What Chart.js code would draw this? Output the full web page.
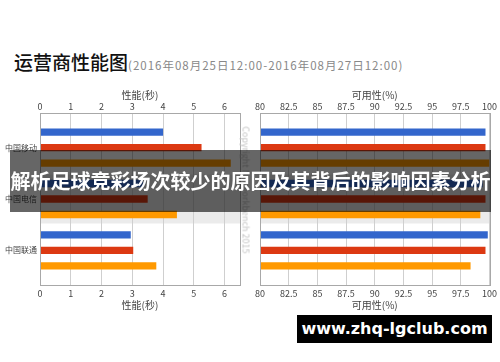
<!DOCTYPE html>
<html>
  <head>
    <meta charset="utf-8" />
    <title>运营商性能图</title>
    <style>
      body { margin: 0; width: 500px; height: 362px; background: #fff; position: relative; overflow: hidden; font-family: "Noto Sans CJK SC", sans-serif; }
      .title { position: absolute; left: 14px; top: 48px; white-space: nowrap; }
      .title .main { font-size: 19px; color: #111; font-weight: 500; }
      .title .sub { font-size: 11.5px; color: #888; letter-spacing: 1px; }
      .chartBox { position: absolute; top: 85px; width: 250px; height: 230px; }
      .copy { position: absolute; left: 246px; top: 190px; transform: translate(-50%, -50%) rotate(90deg); font-size: 9px; color: #c4c4c4; white-space: nowrap; }
      .banner { position: absolute; left: 10px; top: 150px; width: 481px; height: 62px; background: rgba(0, 0, 0, 0.6); color: #fff; font-size: 20px; font-weight: bold; line-height: 62px; text-align: center; white-space: nowrap; }
      .site { position: absolute; left: 297px; top: 315px; width: 195px; height: 28px; background: #000; color: #fff; font-family: "DejaVu Sans", sans-serif; font-weight: bold; font-size: 16px; line-height: 28px; text-align: center; }
    </style>
  </head>
  <body>
    <div class="title"><span class="main">运营商性能图</span><span class="sub">(2016年08月25日12:00-2016年08月27日12:00)</span></div>
    <div class="chartBox" style="left: 0px"><canvas id="perfChart"></canvas></div>
    <div class="chartBox" style="left: 250px"><canvas id="availChart"></canvas></div>
    <div class="copy">Copyright Networkbench 2015</div>
    <div class="banner">解析足球竞彩场次较少的原因及其背后的影响因素分析</div>
    <div class="site">www.zhq-lgclub.com</div>

    <script src="https://cdn.jsdelivr.net/npm/chart.js@4/dist/chart.umd.min.js"></script>
    <script>
      // carriers, top to bottom
      var carriers = ["中国移动", "中国电信", "中国联通"];
      // performance in seconds (blue, red, orange series)
      var perfBlue = [4.0, 3.35, 2.95];
      var perfRed = [5.25, 3.5, 3.03];
      var perfOrange = [6.2, 4.45, 3.78];
      // availability in %
      var availBlue = [99.65, 99.4, 99.85];
      var availRed = [99.65, 99.65, 99.65];
      var availOrange = [100, 99.2, 98.35];

      var colors = ["#3366cc", "#dc3912", "#ff9900"];

      Chart.defaults.font.family = '"Noto Sans CJK SC", sans-serif';
      Chart.defaults.color = "#444";

      function points(values) {
        return values.map(function (v, i) {
          return { x: v, y: i };
        });
      }

      // light band behind the middle carrier + plot frame
      var framePlugin = {
        id: "frame",
        beforeDraw: function (chart) {
          var a = chart.chartArea;
          var y = chart.scales.y;
          var ctx = chart.ctx;
          var t = y.getPixelForValue(0.523);
          var b = y.getPixelForValue(1.477);
          ctx.save();
          ctx.fillStyle = "#ebebeb";
          ctx.fillRect(a.left, t, a.right - a.left, b - t);
          ctx.restore();
        },
        afterDraw: function (chart) {
          var a = chart.chartArea;
          var ctx = chart.ctx;
          ctx.save();
          ctx.strokeStyle = "#a8a8a8";
          ctx.lineWidth = 1;
          ctx.strokeRect(Math.round(a.left) + 0.5, Math.round(a.top) + 0.5, Math.round(a.right - a.left), Math.round(a.bottom - a.top));
          ctx.restore();
        },
      };

      function makeChart(id, title, min, max, step, series, showLabels, padRight) {
        var xAxis = function (pos, isMain) {
          return {
            type: "linear",
            position: pos,
            min: min,
            max: max,
            border: { display: false },
            grid: {
              display: isMain,
              color: "#cfcfcf",
              drawTicks: false,
            },
            ticks: {
              stepSize: step,
              includeBounds: false,
              padding: pos === "top" ? 1 : 3,
              font: { size: 9 },
              color: "#444",
            },
            title: {
              display: true,
              text: title,
              font: { size: 10 },
              color: "#444",
              padding: pos === "top" ? { top: 4, bottom: 0 } : { top: 0, bottom: 4 },
            },
            afterFit: function (scale) {
              scale.height = pos === "top" ? 28 : 30;
            },
          };
        };
        var xTop = xAxis("top", true);
        xTop.grid.borderDash = [1, 2];
        return new Chart(document.getElementById(id), {
          type: "bar",
          data: {
            datasets: series.map(function (vals, k) {
              return {
                data: points(vals),
                backgroundColor: colors[k],
                borderWidth: 0,
                categoryPercentage: 0.906,
                barPercentage: 0.47,
                xAxisID: "x",
                yAxisID: "y",
              };
            }),
          },
          options: {
            indexAxis: "y",
            responsive: false,
            animation: false,
            maintainAspectRatio: false,
            layout: { padding: { left: 0, right: padRight, top: 0, bottom: 0 } },
            plugins: { legend: { display: false }, tooltip: { enabled: false } },
            scales: {
              x: xTop,
              x2: xAxis("bottom", false),
              y: {
                type: "linear",
                reverse: true,
                offset: false,
                min: -0.675,
                max: 2.675,
                border: { display: false },
                grid: { display: false, drawTicks: false, offset: false },
                ticks: {
                  display: showLabels,
                  stepSize: 1,
                  includeBounds: false,
                  padding: 3,
                  font: { size: 8 },
                  color: "#444",
                  callback: function (v) {
                    return Number.isInteger(v) ? carriers[v] : "";
                  },
                },
                afterFit: function (scale) {
                  scale.width = showLabels ? 40 : 10;
                },
              },
            },
          },
          plugins: [framePlugin],
        });
      }

      // set canvas sizes before creating charts
      ["perfChart", "availChart"].forEach(function (id) {
        var c = document.getElementById(id);
        c.width = 250;
        c.height = 230;
        c.style.width = "250px";
        c.style.height = "230px";
      });

      makeChart("perfChart", "性能(秒)", 0, 6.5, 1, [perfBlue, perfRed, perfOrange], true, 10);
      makeChart("availChart", "可用性(%)", 80, 100, 2.5, [availBlue, availRed, availOrange], false, 9);
    </script>
  </body>
</html>
